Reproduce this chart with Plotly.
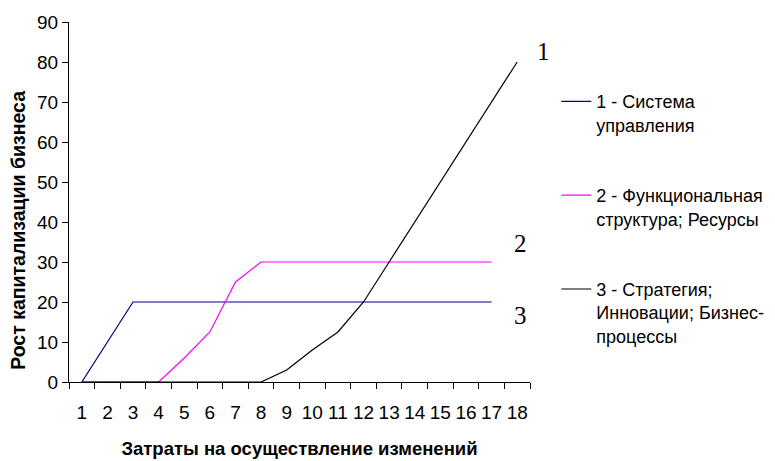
import plotly.graph_objects as go

categories = [str(i) for i in range(1, 19)]
series_names = [
    "1 - Система<br>управления",
    "2 - Функциональная<br>структура; Ресурсы",
    "3 - Стратегия;<br>Инновации; Бизнес-<br>процессы",
]
s1 = [0, 10, 20, 20, 20, 20, 20, 20, 20, 20, 20, 20, 20, 20, 20, 20, 20, None]
s2 = [0, 0, 0, 0, 6, 12.5, 25, 30, 30, 30, 30, 30, 30, 30, 30, 30, 30, None]
s3 = [0, 0, 0, 0, 0, 0, 0, 0, 3, 8, 12.5, 20, 30, 40, 50, 60, 70, 80]
colors = ["#000080", "#FF00FF", "#000000"]
curve_labels = ["1", "2", "3"]
x_title = "Затраты на осуществление изменений"
y_title = "Рост капитализации бизнеса"

fig = go.Figure()
for name, vals, col, grp in zip(series_names, [s1, s2, s3], colors, ["a", "b", "c"]):
    fig.add_trace(go.Scatter(
        x=categories, y=vals, name=name, mode="lines",
        line=dict(color=col, width=1.2), legendgroup=grp,
        connectgaps=False,
    ))

fig.update_layout(
    width=775, height=461,
    margin=dict(l=69, r=245, t=22, b=79, autoexpand=False),
    paper_bgcolor="white", plot_bgcolor="white",
    font=dict(family="Arial, Liberation Sans, sans-serif", color="black"),
    showlegend=True,
    legend=dict(
        x=1.057, y=0.83, xanchor="left", yanchor="top",
        font=dict(size=18, color="black"),
        valign="top", tracegroupgap=44,
        bgcolor="rgba(0,0,0,0)",
    ),
    xaxis=dict(
        type="category", tickson="boundaries", range=[-0.5, 17.5],
        showline=True, linecolor="black", linewidth=1,
        ticks="outside", ticklen=6, tickcolor="black",
        showgrid=False, zeroline=False, tickangle=0,
        tickfont=dict(size=19), ticklabelstandoff=13,
        title=dict(text="<b>" + x_title + "</b>",
                   font=dict(size=18.5), standoff=20),
    ),
    yaxis=dict(
        range=[0, 90], dtick=10,
        showline=True, linecolor="black", linewidth=1,
        ticks="outside", ticklen=6, tickcolor="black",
        showgrid=False, zeroline=False,
        tickfont=dict(size=19),
    ),
)

fig.add_annotation(
    text="<b>" + y_title + "</b>", x=-0.1106, y=0.42,
    xref="paper", yref="paper", textangle=-90, showarrow=False,
    xanchor="center", yanchor="middle", font=dict(size=19.5, color="black"),
)

ann_pos = [(1.030, 0.917), (0.980, 0.386), (0.980, 0.186)]
for lab, (ax, ay) in zip(curve_labels, ann_pos):
    fig.add_annotation(
        text=lab, x=ax, y=ay, xref="paper", yref="paper",
        showarrow=False, xanchor="center", yanchor="middle",
        font=dict(family="Liberation Serif, Times New Roman, serif", size=25, color="black"),
    )

fig.write_html("out.html")
